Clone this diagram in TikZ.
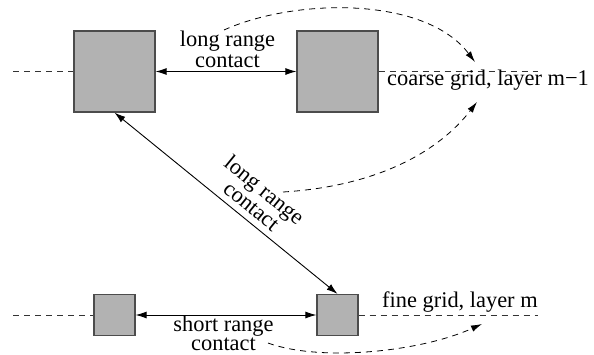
\documentclass[tikz,border=0pt]{standalone}
\usepackage{fontspec}
\setmainfont{Liberation Serif}
\usetikzlibrary{arrows.meta}
\begin{document}
\begin{tikzpicture}[x=1pt,y=-1pt,
  every node/.style={font=\fontsize{22.4}{20.5}\selectfont, inner sep=0pt},
  cell/.style={draw=black!70, fill=black!30, line width=1.2pt, minimum size=#1, inner sep=0pt},
  lbl/.style={align=center},
  link/.style={line width=0.9pt, {Latex[length=11pt,width=7pt]}-{Latex[length=11pt,width=7pt]}},
  gridline/.style={dashed, dash pattern=on 6pt off 5pt, line width=0.8pt, black!80},
  hop/.style={dashed, dash pattern=on 6pt off 5pt, line width=0.8pt, -{Latex[length=11pt,width=6.5pt]}}
]
\useasboundingbox (0,0) rectangle (594,354);
% coarse layer
\node[cell=81pt] (c1) at (114.5,71.5) {};
\node[cell=81pt] (c2) at (337.5,71.5) {};
% fine layer
\node[cell=41pt] (f1) at (114.5,315) {};
\node[cell=41pt] (f2) at (337.5,315) {};
% grid lines
\coordinate (cl) at (13,71.5);
\coordinate (cr) at (538,71.5);
\coordinate (fl) at (13,315);
\coordinate (fr) at (538,315);
\draw[gridline] (cl) -- (c1.west);
\draw[gridline] (c2.east) -- (cr);
\draw[gridline] (fl) -- (f1.west);
\draw[gridline] (f2.east) -- (fr);
% contacts
\draw[link] (c1.east) -- (c2.west);
\draw[link] (f1.east) -- (f2.west);
\draw[link] (c1.south) -- node[pos=0.575, sloped, anchor=south, inner sep=6pt, lbl] (ld) {long range\\contact} (f2.north);
% labels
\node[lbl, anchor=base] (lt) at (227.5,67) {long range\\contact};
\node[lbl, anchor=base, font=\fontsize{22.4}{17}\selectfont] (ls) at (223.5,350) {short range\\contact};
\node[anchor=base west] (gc) at (387,85) {coarse grid, layer m−1};
\node[anchor=base west] (gf) at (382,307) {fine grid, layer m};
% hops
\coordinate (h1s) at (224,30);
\coordinate (h1e) at (475,62);
\coordinate (h2s) at (283,192);
\coordinate (h2e) at (477,102);
\coordinate (h3s) at (268,343);
\coordinate (h3e) at (482,324);
\draw[hop] (h1s) .. controls (295,-2) and (425,-4) .. (h1e);
\draw[hop] (h2s) .. controls (380,186) and (440,150) .. (h2e);
\draw[hop] (h3s) .. controls (320,362) and (420,352) .. (h3e);
\end{tikzpicture}
\end{document}
